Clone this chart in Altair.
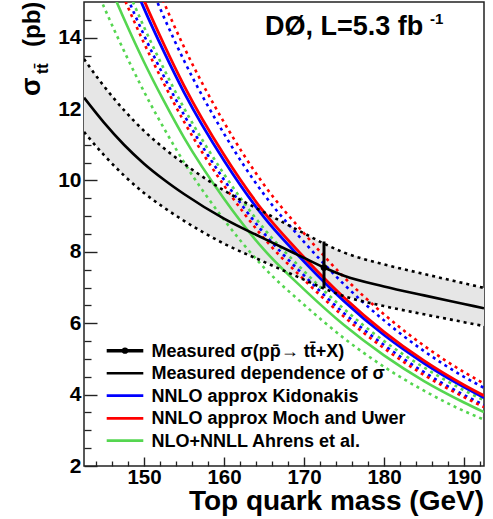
import altair as alt
import pandas as pd

FONT = "Liberation Sans"

# ---------------- data ----------------
# measured dependence of the cross section on the top mass (central, +1sd, -1sd)
meas_mass = [142.5, 145, 147.5, 150, 152.5, 155, 160, 165, 170, 172.5, 175, 180, 185, 190, 192.5]
meas_central = [12.32, 11.62, 11.00, 10.47, 10.02, 9.62, 8.93, 8.37, 7.83, 7.56, 7.33, 7.03, 6.78, 6.54, 6.42]
meas_upper = [13.40, 12.64, 11.97, 11.39, 10.90, 10.47, 9.72, 9.11, 8.52, 8.23, 7.98, 7.65, 7.38, 7.12, 6.99]
meas_lower = [11.36, 10.71, 10.14, 9.65, 9.24, 8.87, 8.23, 7.72, 7.22, 6.97, 6.76, 6.48, 6.25, 6.03, 5.92]

# theory predictions (None = far above the frame)
th_mass = [142.5, 145, 147.5, 150, 152.5, 155, 160, 165, 170, 175, 180, 185, 190, 192.5]
kid_central = [None, None, 16.17, 14.82, 13.60, 12.47, 10.56, 8.97, 7.73, 6.62, 5.67, 4.88, 4.21, 3.91]
kid_up = [None, None, None, 15.88, 14.57, 13.36, 11.31, 9.61, 8.28, 7.09, 6.08, 5.22, 4.50, 4.19]
kid_down = [None, 16.74, 15.35, 14.07, 12.91, 11.84, 10.02, 8.52, 7.34, 6.28, 5.39, 4.63, 3.99, 3.71]
mu_central = [None, None, 16.42, 15.05, 13.81, 12.66, 10.72, 9.11, 7.85, 6.72, 5.76, 4.95, 4.27, 3.97]
mu_up = [None, None, None, 16.33, 14.98, 13.74, 11.63, 9.88, 8.52, 7.29, 6.25, 5.37, 4.63, 4.31]
mu_down = [None, 16.47, 15.11, 13.85, 12.71, 11.65, 9.86, 8.38, 7.22, 6.18, 5.30, 4.55, 3.93, 3.65]
ahr_central = [None, 15.84, 14.53, 13.32, 12.22, 11.20, 9.49, 8.06, 6.95, 5.95, 5.10, 4.38, 3.78, 3.51]
ahr_up = [None, 17.01, 15.60, 14.30, 13.12, 12.03, 10.18, 8.65, 7.46, 6.40, 5.50, 4.76, 4.12, 3.84]
ahr_down = [16.20, 14.86, 13.63, 12.49, 11.46, 10.51, 8.90, 7.56, 6.52, 5.58, 4.78, 4.11, 3.54, 3.30]

# measured point
point_mass = [172.5]
point_xsec = [7.56]
point_hi = [8.29]
point_lo = [6.98]

x_ticks_major = [150, 160, 170, 180, 190]
x_ticks_minor = [144, 146, 148, 152, 154, 156, 158, 162, 164, 166, 168, 172, 174, 176, 178,
                 182, 184, 186, 188, 192]
y_ticks_major = [2, 4, 6, 8, 10, 12, 14]
y_ticks_minor = [2.5, 3, 3.5, 4.5, 5, 5.5, 6.5, 7, 7.5, 8.5, 9, 9.5, 10.5, 11, 11.5,
                 12.5, 13, 13.5, 14.5]

legend_labels = ["Measured \u03c3(pp\u0304\u2192 tt\u0304+X)", "Measured dependence of \u03c3",
                 "NNLO approx Kidonakis", "NNLO approx Moch and Uwer", "NLO+NNLL Ahrens et al."]
legend_colors = ["black", "black", "#0000ff", "#ff0000", "#55d650"]

BLUE, RED, GREEN = "#0000ff", "#ff0000", "#55d650"

# ---------------- tables ----------------
meas_df = pd.DataFrame({"mass": meas_mass, "c": meas_central, "hi": meas_upper, "lo": meas_lower})
pt_df = pd.DataFrame({"mass": point_mass, "c": point_xsec, "hi": point_hi, "lo": point_lo})
one = pd.DataFrame({"a": [0]})


def curve(values):
    return pd.DataFrame([{"mass": m, "c": v} for m, v in zip(th_mass, values) if v is not None])


xs = alt.Scale(domain=[142.5, 192.5], nice=False, zero=False)
ys = alt.Scale(domain=[2, 15], nice=False, zero=False)

X0 = alt.X("mass:Q", scale=xs, axis=None)
Y0 = alt.Y("c:Q", scale=ys, axis=None)

# band with main (label) axes
band = alt.Chart(meas_df).mark_area(color="#e6e6e6").encode(
    x=alt.X("mass:Q", scale=xs, axis=alt.Axis(
        values=x_ticks_major, ticks=False, tickSize=0, domain=False, grid=False,
        labelFont=FONT, labelFontSize=20.5, labelFontWeight="bold", labelColor="black",
        labelPadding=1, title=None, format="d", labelFlush=False)),
    y=alt.Y("lo:Q", scale=ys, axis=alt.Axis(
        values=y_ticks_major, ticks=False, tickSize=0, domain=False, grid=False,
        labelFont=FONT, labelFontSize=21, labelFontWeight="bold", labelColor="black",
        labelPadding=3, title=None, format="d", labelFlush=False)),
    y2="hi:Q",
)

# inward major ticks
ticks_major = alt.Chart(meas_df).mark_point(opacity=0).encode(
    x=alt.X("mass:Q", scale=xs, axis=alt.Axis(
        orient="top", offset=-464, values=x_ticks_major, labels=False, domain=False,
        grid=False, tickSize=9, tickWidth=1.4, tickColor="#222", title=None)),
    y=alt.Y("c:Q", scale=ys, axis=alt.Axis(
        orient="right", offset=-400, values=y_ticks_major, labels=False, domain=False,
        grid=False, tickSize=13, tickWidth=1.4, tickColor="#222", title=None)),
)
ticks_minor = alt.Chart(meas_df).mark_point(opacity=0).encode(
    x=alt.X("mass:Q", scale=xs, axis=alt.Axis(
        orient="top", offset=-464, values=x_ticks_minor, labels=False, domain=False,
        grid=False, tickSize=5, tickWidth=1.3, tickColor="#222", title=None)),
    y=alt.Y("c:Q", scale=ys, axis=alt.Axis(
        orient="right", offset=-400, values=y_ticks_minor, labels=False, domain=False,
        grid=False, tickSize=7, tickWidth=1.3, tickColor="#222", title=None)),
)


def line(values, color, dotted, width=2.6):
    kw = dict(color=color, strokeWidth=width, clip=True, interpolate="monotone")
    if dotted:
        kw["strokeDash"] = [3, 4]
    return alt.Chart(curve(values)).mark_line(**kw).encode(x=X0, y=Y0)


dotted = [line(v, c, True) for v, c in [
    (ahr_up, GREEN), (ahr_down, GREEN), (kid_up, BLUE), (kid_down, BLUE),
    (mu_up, RED), (mu_down, RED)]]
solid = [line(kid_central, BLUE, False, 2.8), line(mu_central, RED, False, 2.8),
         line(ahr_central, GREEN, False, 2.6)]

meas_up_line = alt.Chart(meas_df).mark_line(color="black", strokeWidth=2.6, strokeDash=[3, 4],
                                            interpolate="monotone", clip=True).encode(
    x=X0, y=alt.Y("hi:Q", scale=ys, axis=None))
meas_lo_line = alt.Chart(meas_df).mark_line(color="black", strokeWidth=2.6, strokeDash=[3, 4],
                                            interpolate="monotone", clip=True).encode(
    x=X0, y=alt.Y("lo:Q", scale=ys, axis=None))
meas_line = alt.Chart(meas_df).mark_line(color="black", strokeWidth=2.6,
                                         interpolate="monotone", clip=True).encode(x=X0, y=Y0)

err = alt.Chart(pt_df).mark_rule(color="black", strokeWidth=3).encode(
    x=X0, y=alt.Y("lo:Q", scale=ys, axis=None), y2="hi:Q")
pt = alt.Chart(pt_df).mark_circle(color="black", size=45, opacity=1).encode(x=X0, y=Y0)


def txt(s, x, y, size, angle=0, align="left", baseline="alphabetic", weight="bold", font=FONT):
    return alt.Chart(one).mark_text(text=s, fontSize=size, font=font, fontWeight=weight,
                                    align=align, baseline=baseline, angle=angle,
                                    color="black").encode(x=alt.value(x), y=alt.value(y))


# legend
leg_y = [348.7, 371.3, 393.7, 416.3, 438.7]
leg_w = [3.6, 2.6, 2.8, 2.8, 2.8]
legend = []
for lab, col, yy, w in zip(legend_labels, legend_colors, leg_y, leg_w):
    legend.append(alt.Chart(one).mark_rule(color=col, strokeWidth=w).encode(
        x=alt.value(22.7), x2=alt.value(59.3), y=alt.value(yy)))
    legend.append(txt(lab, 67.5, yy + 1, 18, baseline="middle"))
legend.append(alt.Chart(one).mark_circle(color="black", size=40, opacity=1).encode(
    x=alt.value(41), y=alt.value(leg_y[0])))

texts = [
    txt("D\u00d8, L=5.3 fb", 181, 33, 27),
    txt("-1", 346, 22, 15),
    txt("Top quark mass (GeV)", 400, 508, 28, align="right"),
    txt("\u03c3", -52.5, 94, 27, angle=270, baseline="middle"),
    txt("tt\u0304", -41.5, 72, 16, angle=270, baseline="middle"),
    txt("(pb)", -51.5, 45, 24, angle=270, baseline="middle"),
]

chart = alt.layer(
    band, ticks_minor, ticks_major, *dotted, *solid,
    meas_up_line, meas_lo_line, meas_line, err, pt, *legend, *texts
).resolve_axis(x="independent", y="independent").properties(
    width=400, height=464,
    padding={"left": 84, "top": 2, "right": 9, "bottom": 53},
    autosize=alt.AutoSizeParams(type="none"),
).configure_view(stroke="#222", strokeWidth=1.5)

chart.save("out.html", embed_options={"renderer": "svg", "actions": False})
